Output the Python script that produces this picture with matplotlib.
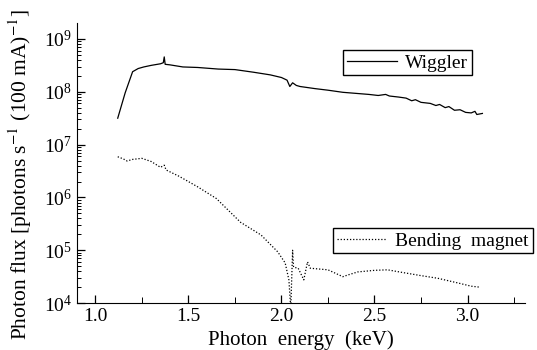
import matplotlib
matplotlib.use('Agg')
import matplotlib.pyplot as plt
from matplotlib.ticker import MultipleLocator, LogLocator
import numpy as np

plt.rcParams['font.family'] = ['Liberation Serif', 'DejaVu Serif']
plt.rcParams['mathtext.fontset'] = 'stix'

# values (energy in keV, log10 of flux)
wiggler_e = [1.12, 1.16, 1.20, 1.23, 1.26, 1.30, 1.35, 1.365, 1.37, 1.375,
             1.40, 1.47, 1.55, 1.66, 1.75, 1.85, 1.94, 2.00, 2.03, 2.045,
             2.06, 2.08, 2.10, 2.12, 2.14, 2.18, 2.25, 2.33, 2.40, 2.47,
             2.52, 2.56, 2.58, 2.63, 2.67, 2.70, 2.72, 2.75, 2.80, 2.83,
             2.85, 2.88, 2.90, 2.93, 2.96, 2.99, 3.02, 3.04, 3.05, 3.08]
wiggler_log = [7.50, 7.98, 8.38, 8.44, 8.47, 8.50, 8.53, 8.55, 8.66, 8.52,
               8.51, 8.47, 8.46, 8.43, 8.42, 8.37, 8.32, 8.27, 8.22, 8.10,
               8.17, 8.12, 8.10, 8.09, 8.08, 8.06, 8.03, 7.99, 7.97, 7.95,
               7.93, 7.95, 7.92, 7.90, 7.88, 7.83, 7.85, 7.80, 7.78, 7.74,
               7.76, 7.70, 7.72, 7.65, 7.66, 7.61, 7.60, 7.63, 7.57, 7.59]

bend_e = [1.12, 1.15, 1.17, 1.20, 1.25, 1.30, 1.35, 1.37, 1.38, 1.45,
          1.55, 1.65, 1.78, 1.89, 1.98, 2.02, 2.04, 2.05, 2.06, 2.065,
          2.09, 2.12, 2.14, 2.155, 2.25, 2.33, 2.355, 2.41, 2.50, 2.57,
          2.65, 2.75, 2.84, 2.95, 3.02, 3.07]
bend_log = [6.77, 6.73, 6.69, 6.72, 6.74, 6.68, 6.57, 6.61, 6.52, 6.40,
            6.20, 5.98, 5.53, 5.29, 4.97, 4.76, 4.44, 3.90, 5.00, 4.68,
            4.66, 4.44, 4.78, 4.66, 4.63, 4.50, 4.53, 4.59, 4.62, 4.63,
            4.58, 4.52, 4.47, 4.38, 4.32, 4.30]

fig = plt.figure(figsize=(5.37, 3.5), dpi=100)
ax = fig.add_axes([0.143, 0.134, 0.835, 0.80])

l1, = ax.plot(wiggler_e, 10 ** np.array(wiggler_log), color='black', lw=0.9)
l2, = ax.plot(bend_e, 10 ** np.array(bend_log), color='black', lw=0.9,
              linestyle=(0, (1, 1.5)))

ax.set_yscale('log')
ax.set_xlim(0.9, 3.31)
ax.set_ylim(1e4, 10 ** 9.3)

ax.xaxis.set_major_locator(MultipleLocator(0.5))
ax.xaxis.set_minor_locator(MultipleLocator(0.25))
ax.xaxis.set_major_formatter(plt.FormatStrFormatter('%.1f'))
ax.yaxis.set_major_locator(LogLocator(base=10, numticks=10))
ax.yaxis.set_minor_locator(LogLocator(base=10, subs=np.arange(2, 10), numticks=10))

ax.tick_params(which='both', direction='in', labelsize=14)
ax.tick_params(which='major', length=6, width=0.9)
ax.tick_params(which='minor', length=3, width=0.7)
ax.tick_params(axis='x', which='minor', length=4)

for s in ['top', 'right']:
    ax.spines[s].set_visible(False)

ax.set_xlabel('Photon  energy  (keV)', fontsize=15, labelpad=4)
ax.set_ylabel(r'Photon flux [photons s$^{-1}$ (100 mA)$^{-1}$]', fontsize=15.5)
ax.yaxis.set_label_coords(-0.095, 0.46)

leg1 = fig.legend([l1], ['Wiggler'], loc='upper left',
                  bbox_to_anchor=(343 / 537, 1 - 50 / 350), fontsize=14,
                  fancybox=False, edgecolor='black', framealpha=1,
                  borderpad=0.2, handlelength=2.6, handletextpad=0.4,
                  borderaxespad=0)
leg2 = fig.legend([l2], ['Bending  magnet'], loc='upper left',
                  bbox_to_anchor=(333 / 537, 1 - 228 / 350), fontsize=14,
                  fancybox=False, edgecolor='black', framealpha=1,
                  borderpad=0.2, handlelength=2.6, handletextpad=0.4,
                  borderaxespad=0)

fig.savefig('out.png', dpi=100)
